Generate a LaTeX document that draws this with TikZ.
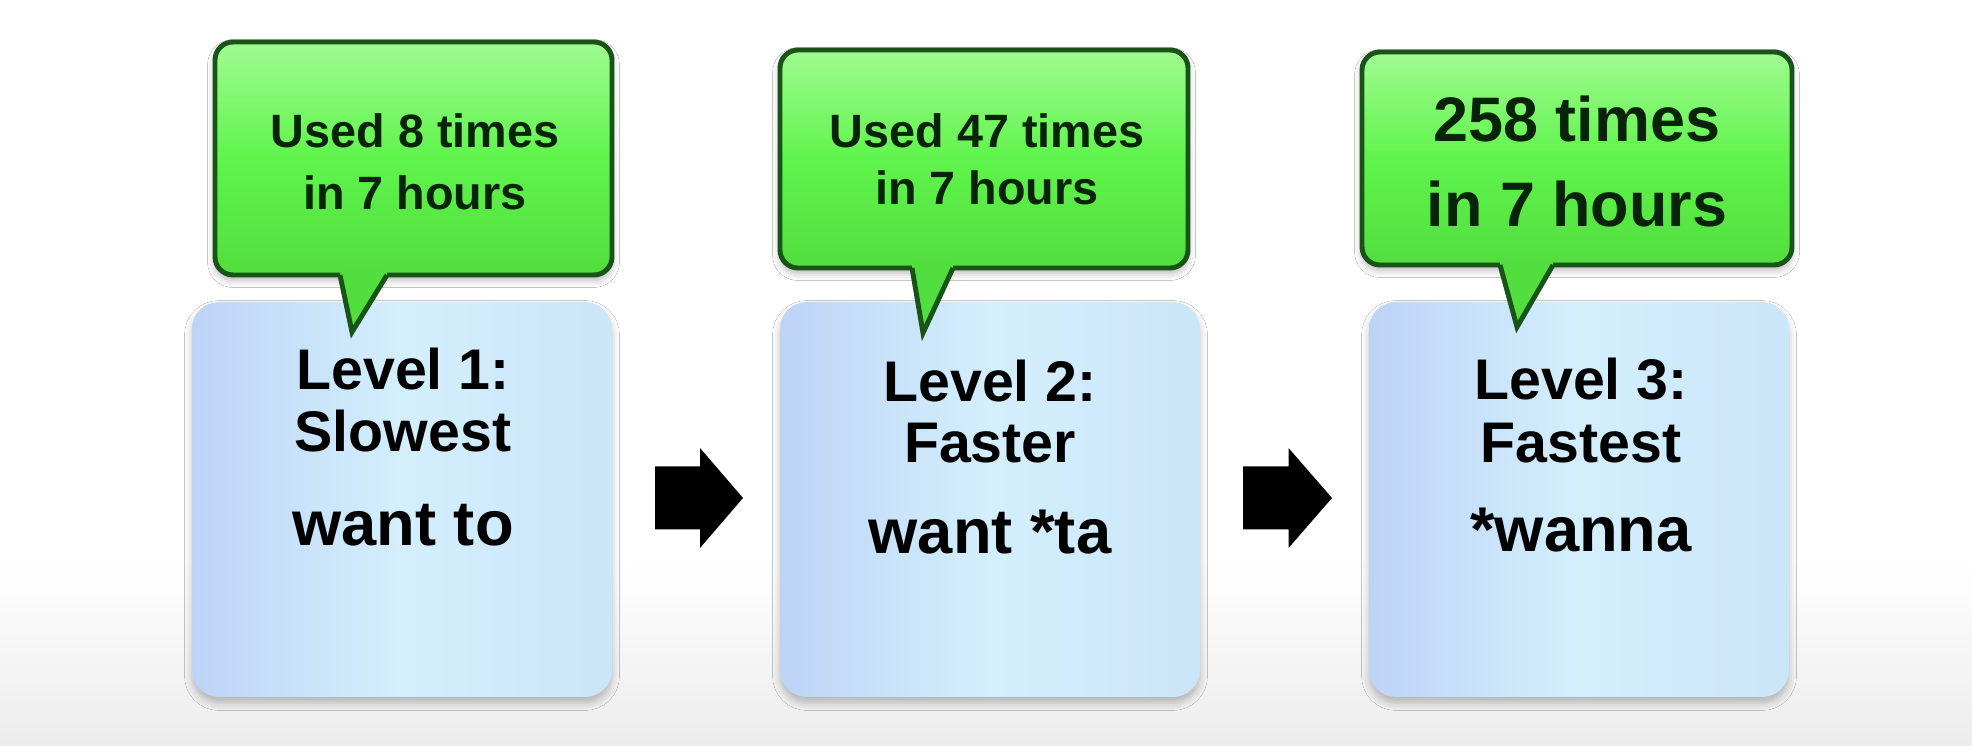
\documentclass[tikz,border=0pt]{standalone}
\usepackage{fontspec}
\setmainfont{Liberation Sans}
\usetikzlibrary{shadows.blur}

\definecolor{boxblue}{RGB}{189,212,247}
\definecolor{boxcyan}{RGB}{211,239,252}
\definecolor{boxedge}{RGB}{203,229,249}
\definecolor{tipgreen}{RGB}{160,251,145}
\definecolor{midgreen}{RGB}{96,244,76}
\definecolor{lowgreen}{RGB}{82,222,62}
\definecolor{rimgreen}{RGB}{24,84,24}
\definecolor{inkgreen}{RGB}{8,36,8}
\definecolor{floorgray}{RGB}{236,236,236}

\tikzset{
  levelbox/.style={minimum width=4.2cm, minimum height=3.95cm, inner sep=0cm,
    rounded corners=0.27cm, left color=boxblue, right color=boxedge,
    middle color=boxcyan,
    blur shadow={shadow xshift=0cm, shadow yshift=-0.06cm, shadow opacity=25}},
  bubble/.style={draw=rimgreen, line width=1.4pt, rounded corners=0.18cm,
    inner sep=0cm, top color=tipgreen, bottom color=lowgreen,
    middle color=midgreen,
    blur shadow={shadow xshift=0cm, shadow yshift=-0.05cm, shadow opacity=30}},
  beak/.style={draw=rimgreen, line width=1.4pt, line join=miter},
  bubbletext/.style={anchor=base, text=inkgreen,
    font=\bfseries\fontsize{13.3}{16}\selectfont},
  bigtext/.style={anchor=base, text=inkgreen,
    font=\bfseries\fontsize{17.9}{21}\selectfont},
  leveltext/.style={anchor=base, text=black,
    font=\bfseries\fontsize{16.3}{19}\selectfont},
  wordtext/.style={anchor=base, text=black,
    font=\bfseries\fontsize{18}{21}\selectfont},
  stepper/.style={fill=black}
}

\begin{document}
\begin{tikzpicture}

% page and floor
\useasboundingbox (0,0) rectangle (19.72,-7.46);
\fill[white] (0,0) rectangle (19.72,-7.46);
\shade[top color=white, bottom color=floorgray] (0,-5.6) rectangle (19.72,-7.46);

% the three levels
\node[levelbox] (lvl1) at (4.02,-4.995) {};
\node[leveltext] (lvl1a) at (4.03,-3.90) {Level 1:};
\node[leveltext] (lvl1b) at (4.03,-4.52) {Slowest};
\node[wordtext] (lvl1c) at (4.03,-5.46) {want to};

\node[levelbox] (lvl2) at (9.90,-4.995) {};
\node[leveltext] (lvl2a) at (9.90,-4.02) {Level 2:};
\node[leveltext] (lvl2b) at (9.90,-4.63) {Faster};
\node[wordtext] (lvl2c) at (9.90,-5.54) {want *ta};

\node[levelbox] (lvl3) at (15.79,-4.995) {};
\node[leveltext] (lvl3a) at (15.81,-4.00) {Level 3:};
\node[leveltext] (lvl3b) at (15.81,-4.63) {Fastest};
\node[wordtext] (lvl3c) at (15.81,-5.52) {*wanna};

% arrows between the levels
\coordinate (step12) at (6.99,-4.98);
\coordinate (step23) at (12.875,-4.98);
\fill[stepper] (step12) ++(-0.44,0.315) -- ++(0.45,0) -- ++(0,0.185)
  -- ++(0.43,-0.5) -- ++(-0.43,-0.5) -- ++(0,0.185) -- ++(-0.45,0) -- cycle;
\fill[stepper] (step23) ++(-0.445,0.315) -- ++(0.455,0) -- ++(0,0.185)
  -- ++(0.435,-0.5) -- ++(-0.435,-0.5) -- ++(0,0.185) -- ++(-0.455,0) -- cycle;

% callout over level 1
\node[bubble, minimum width=3.97cm, minimum height=2.33cm] (use1) at (4.135,-1.585) {};
\coordinate (beak1l) at (3.40,-2.75);
\coordinate (beak1r) at (3.87,-2.75);
\coordinate (tip1) at (3.52,-3.32);
\fill[lowgreen] ([yshift=0.05cm]beak1l) -- (beak1l) -- (tip1) -- (beak1r) -- ([yshift=0.05cm]beak1r) -- cycle;
\draw[beak] (beak1l) -- (tip1) -- (beak1r);
\node[bubbletext] (use1a) at (4.15,-1.48) {Used 8 times};
\node[bubbletext] (use1b) at (4.15,-2.10) {in 7 hours};

% callout over level 2
\node[bubble, minimum width=4.08cm, minimum height=2.18cm] (use2) at (9.84,-1.59) {};
\coordinate (beak2l) at (9.12,-2.68);
\coordinate (beak2r) at (9.53,-2.68);
\coordinate (tip2) at (9.23,-3.33);
\fill[lowgreen] ([yshift=0.05cm]beak2l) -- (beak2l) -- (tip2) -- (beak2r) -- ([yshift=0.05cm]beak2r) -- cycle;
\draw[beak] (beak2l) -- (tip2) -- (beak2r);
\node[bubbletext] (use2a) at (9.87,-1.48) {Used 47 times};
\node[bubbletext] (use2b) at (9.87,-2.05) {in 7 hours};

% callout over level 3
\node[bubble, minimum width=4.30cm, minimum height=2.13cm] (use3) at (15.77,-1.585) {};
\coordinate (beak3l) at (15.00,-2.65);
\coordinate (beak3r) at (15.53,-2.65);
\coordinate (tip3) at (15.17,-3.27);
\fill[lowgreen] ([yshift=0.05cm]beak3l) -- (beak3l) -- (tip3) -- (beak3r) -- ([yshift=0.05cm]beak3r) -- cycle;
\draw[beak] (beak3l) -- (tip3) -- (beak3r);
\node[bigtext] (use3a) at (15.77,-1.42) {258 times};
\node[bigtext] (use3b) at (15.77,-2.27) {in 7 hours};

\end{tikzpicture}
\end{document}
